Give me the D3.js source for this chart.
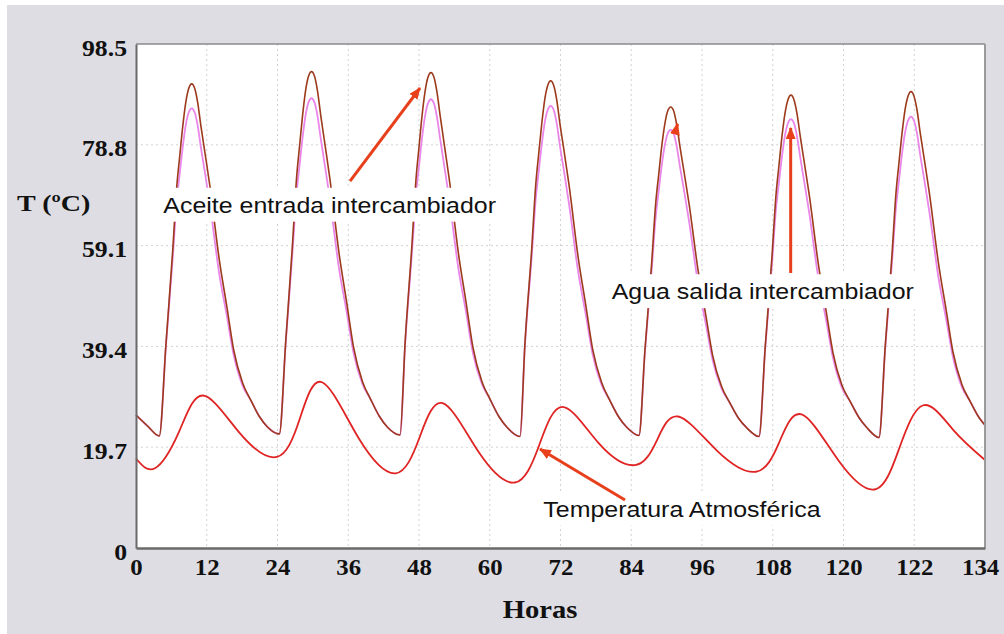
<!DOCTYPE html>
<html>
<head>
<meta charset="utf-8">
<script src="https://cdn.jsdelivr.net/npm/d3@7"></script>
<style>
  html, body { margin: 0; padding: 0; background: #ffffff; }
  svg { display: block; }
</style>
</head>
<body>
<svg id="chart" width="1004" height="634"></svg>
<script>
// ---- Axis ticks ----
const yTicks = [0, 19.7, 39.4, 59.1, 78.8, 98.5];
const xTickValues = [0, 12, 24, 36, 48, 60, 72, 84, 96, 108, 120, 132, 144];
const xTickLabels = ["0", "12", "24", "36", "48", "60", "72", "84", "96", "108", "120", "122", "134"];

// ---- Oil inlet / water outlet temperatures (shared time base, hours) ----
const horas = [
  0, 2, 3.95,
  5.09, 6.23, 6.91, 7.41, 7.92, 8.43, 8.94, 9.45, 9.96, 10.47, 11.03, 11.74, 12.55, 14.13, 15.39, 16.57, 18.10, 19.46, 20.98, 22.34,
  24.31,
  25.41, 26.55, 27.23, 27.73, 28.24, 28.75, 29.26, 29.77, 30.28, 30.79, 31.35, 32.06, 32.87, 34.45, 35.71, 36.89, 38.42, 39.78, 41.30, 42.66,
  44.78,
  45.67, 46.81, 47.49, 47.99, 48.50, 49.01, 49.52, 50.03, 50.54, 51.05, 51.61, 52.32, 53.13, 54.71, 55.97, 57.15, 58.68, 60.04, 61.56, 62.92,
  65.13,
  65.98, 67.12, 67.80, 68.30, 68.81, 69.32, 69.83, 70.34, 70.85, 71.36, 71.92, 72.63, 73.44, 75.02, 76.28, 77.46, 78.99, 80.35, 81.87, 83.23,
  85.31,
  86.33, 87.47, 88.15, 88.65, 89.16, 89.67, 90.18, 90.69, 91.20, 91.71, 92.27, 92.98, 93.79, 95.37, 96.63, 97.81, 99.34, 100.70, 102.22, 103.58,
  105.67,
  106.73, 107.87, 108.55, 109.05, 109.56, 110.07, 110.58, 111.09, 111.60, 112.11, 112.67, 113.38, 114.19, 115.77, 117.03, 118.21, 119.74, 121.10, 122.62, 123.98,
  126.02,
  127.09, 128.23, 128.91, 129.41, 129.92, 130.43, 130.94, 131.45, 131.96, 132.47, 133.03, 133.74, 134.55, 136.13, 137.39, 138.57, 140.10, 141.46, 142.98, 144
];

const aceiteEntrada = [
  26.0, 23.8, 21.9,
  40.0, 58.2, 70.6, 76.5, 82.3, 87.0, 89.8, 90.7, 89.8, 87.0, 82.3, 76.9, 70.6, 56.3, 47.3, 38.7, 32.2, 28.9, 25.6, 23.6,
  22.3,
  40.6, 59.5, 72.3, 78.4, 84.4, 89.3, 92.2, 93.1, 92.2, 89.3, 84.4, 78.8, 72.3, 57.5, 48.2, 39.3, 32.5, 29.1, 25.7, 23.6,
  22.1,
  40.6, 59.4, 72.1, 78.2, 84.3, 89.1, 92.0, 92.9, 92.0, 89.1, 84.3, 78.6, 72.1, 57.4, 48.1, 39.2, 32.5, 29.1, 25.7, 23.6,
  21.8,
  40.2, 58.5, 71.0, 77.0, 82.8, 87.6, 90.4, 91.3, 90.4, 87.6, 82.8, 77.4, 71.0, 56.6, 47.5, 38.8, 32.3, 28.9, 25.6, 23.6,
  22.0,
  38.8, 55.8, 67.4, 72.9, 78.4, 82.7, 85.4, 86.2, 85.4, 82.7, 78.4, 73.3, 67.4, 54.0, 45.6, 37.6, 31.5, 28.4, 25.3, 23.5,
  21.8,
  39.4, 57.0, 69.0, 74.7, 80.4, 84.9, 87.6, 88.5, 87.6, 84.9, 80.4, 75.1, 69.0, 55.2, 46.5, 38.2, 31.8, 28.7, 25.5, 23.5,
  21.6,
  39.6, 57.4, 69.5, 75.3, 81.0, 85.6, 88.3, 89.2, 88.3, 85.6, 81.0, 75.7, 69.5, 55.5, 46.7, 38.3, 31.9, 28.7, 25.5, 24.0
];

const aguaSalida = [
  26.0, 23.8, 21.9,
  39.7, 56.7, 67.8, 73.1, 78.3, 82.6, 85.1, 85.9, 85.1, 82.5, 78.1, 73.0, 67.0, 53.5, 45.5, 37.7, 31.7, 28.9, 25.6, 23.6,
  22.3,
  40.3, 57.9, 69.3, 74.7, 80.1, 84.5, 87.1, 87.9, 87.1, 84.4, 79.9, 74.6, 68.4, 54.5, 46.3, 38.2, 32.0, 29.1, 25.7, 23.6,
  22.1,
  40.3, 57.8, 69.1, 74.5, 80.0, 84.3, 86.9, 87.7, 86.9, 84.2, 79.8, 74.4, 68.2, 54.4, 46.2, 38.1, 32.0, 29.1, 25.7, 23.6,
  21.8,
  39.9, 57.0, 68.2, 73.5, 78.8, 83.1, 85.6, 86.4, 85.6, 83.0, 78.5, 73.4, 67.3, 53.8, 45.7, 37.8, 31.8, 28.9, 25.6, 23.6,
  22.0,
  38.5, 54.4, 64.8, 69.7, 74.7, 78.6, 81.0, 81.7, 81.0, 78.5, 74.5, 69.7, 64.0, 51.4, 43.9, 36.7, 31.1, 28.4, 25.3, 23.5,
  21.8,
  39.1, 55.5, 66.3, 71.4, 76.5, 80.6, 83.0, 83.8, 83.0, 80.5, 76.3, 71.3, 65.5, 52.5, 44.7, 37.2, 31.3, 28.7, 25.5, 23.5,
  21.6,
  39.3, 55.9, 66.7, 71.8, 77.0, 81.1, 83.5, 84.3, 83.5, 81.0, 76.7, 71.7, 65.8, 52.7, 44.9, 37.3, 31.4, 28.7, 25.5, 24.0
];

// ---- Ambient temperature ----
const horasAtm = [0, 3.22, 7.29, 11.36, 17.64, 23.92, 27.74, 31.55, 37.80, 44.05, 48.04, 52.02, 58.15, 64.28, 68.29,
  72.30, 78.47, 84.64, 88.31, 91.98, 98.57, 105.16, 109.04, 112.91, 119.21, 125.51, 129.52, 133.53, 138.6, 144];
const tempAtmosferica = [17.5, 15.6, 22.7, 29.8, 22.4, 17.8, 25.1, 32.4, 21.4, 14.6, 21.45, 28.3, 18.7, 12.8, 19.8,
  27.6, 20.5, 16.2, 20.95, 25.7, 19.0, 14.9, 20.5, 26.1, 17.0, 11.5, 19.7, 27.9, 23.1, 17.2];

// ---- Annotations (positions in hours / °C) ----
const etiquetas = [
  { texto: "Aceite entrada intercambiador", h: 4.63, v: 65.5 },
  { texto: "Agua salida intercambiador", h: 80.68, v: 48.6 },
  { texto: "Temperatura Atmosférica", h: 69.08, v: 6.12 }
];
const flechas = [
  { h0: 36.3, v0: 71.7, h1: 48.17, v1: 89.9 },
  { h0: 111.04, v0: 53.75, h1: 111.04, v1: 82.1 },
  { h0: 91.45, v0: 81.0, h1: 91.85, v1: 82.9 },
  { h0: 82.94, v0: 9.38, h1: 68.52, v1: 19.35 }
];

// ---- Layout ----
const W = 1004, H = 634;
const plot = { left: 136, right: 985, top: 44, bottom: 548 };

const svg = d3.select("#chart");

// page background
svg.append("rect").attr("x", 7).attr("y", 5).attr("width", W - 7).attr("height", H - 5).attr("fill", "#dddde3");
svg.append("rect")
  .attr("x", plot.left).attr("y", plot.top)
  .attr("width", plot.right - plot.left).attr("height", plot.bottom - plot.top)
  .attr("fill", "#ffffff");

const x = d3.scaleLinear().domain([0, 144]).range([plot.left, plot.right]);
const y = d3.scaleLinear().domain([0, 98.5]).range([plot.bottom, plot.top]);

// grid
const grid = svg.append("g").attr("stroke", "#d2d2d2").attr("stroke-width", 1).attr("stroke-dasharray", "2,3");
grid.selectAll("line.v").data(xTickValues.slice(1, -1)).join("line")
  .attr("x1", d => x(d)).attr("x2", d => x(d)).attr("y1", plot.top).attr("y2", plot.bottom);
grid.selectAll("line.h").data(yTicks.slice(1, -1)).join("line")
  .attr("x1", plot.left).attr("x2", plot.right).attr("y1", d => y(d)).attr("y2", d => y(d));

// series
const lineOf = (xs, ys, curve) => d3.line().x((d, i) => x(xs[i])).y(d => y(d)).curve(curve)(ys);

svg.append("path").attr("d", lineOf(horasAtm, tempAtmosferica, d3.curveNatural))
  .attr("fill", "none").attr("stroke", "#e02424").attr("stroke-width", 1.8);
svg.append("path").attr("d", lineOf(horas, aguaSalida, d3.curveMonotoneX))
  .attr("fill", "none").attr("stroke", "#ea86ea").attr("stroke-width", 1.8);
svg.append("path").attr("d", lineOf(horas, aceiteEntrada, d3.curveMonotoneX))
  .attr("fill", "none").attr("stroke", "#9c3a1c").attr("stroke-width", 1.6);

// frame
svg.append("line").attr("x1", plot.left).attr("x2", plot.right).attr("y1", plot.top).attr("y2", plot.top)
  .attr("stroke", "#8a8a8a").attr("stroke-width", 1.5);
svg.append("line").attr("x1", plot.right).attr("x2", plot.right).attr("y1", plot.top).attr("y2", plot.bottom)
  .attr("stroke", "#9a9a9a").attr("stroke-width", 2);

// axes
const serif = "'Liberation Serif', 'Times New Roman', serif";
const lastX = xTickValues.length - 1;
const xAxis = d3.axisBottom(x).tickValues(xTickValues)
  .tickFormat((d, i) => xTickLabels[i]).tickSize(0).tickPadding(11);
const gx = svg.append("g").attr("transform", `translate(0,${plot.bottom})`).call(xAxis);
gx.select(".domain").attr("stroke", "#6a6a6a").attr("stroke-width", 2.5);
gx.selectAll("text").attr("font-family", serif).attr("font-weight", "bold")
  .attr("font-size", 23).attr("fill", "#111").attr("transform", "scale(1.08,1)")
  .attr("dx", (d, i) => i === lastX ? -4.5 : 0);

const yAxis = d3.axisLeft(y).tickValues(yTicks)
  .tickFormat(d => d === 0 ? "0" : d3.format(".1f")(d)).tickSize(0).tickPadding(8);
const gy = svg.append("g").attr("transform", `translate(${plot.left},0)`).call(yAxis);
gy.select(".domain").attr("stroke", "#6a6a6a").attr("stroke-width", 2);
gy.selectAll("text").attr("font-family", serif).attr("font-weight", "bold")
  .attr("font-size", 23).attr("fill", "#111").attr("dy", "0.48em").attr("transform", "scale(1.12,1)");

// axis titles
svg.append("text").attr("x", 540).attr("y", 618).attr("text-anchor", "middle")
  .attr("font-family", serif).attr("font-weight", "bold").attr("font-size", 26).attr("fill", "#111")
  .attr("transform", "translate(540,0) scale(1.1,1) translate(-540,0)")
  .text("Horas");
svg.append("text").attr("x", 17).attr("y", 211)
  .attr("font-family", serif).attr("font-weight", "bold").attr("font-size", 23).attr("fill", "#111")
  .attr("transform", "translate(17,0) scale(1.22,1) translate(-17,0)")
  .text("T (ºC)");

// annotation labels on white boxes
etiquetas.forEach(e => {
  const g = svg.append("g").attr("transform", `translate(${x(e.h)},${y(e.v)}) scale(1.085,1)`);
  const t = g.append("text").attr("x", 0).attr("y", 0)
    .attr("font-family", "'Liberation Sans', Arial, sans-serif").attr("font-size", 23).attr("fill", "#111")
    .text(e.texto);
  const b = t.node().getBBox();
  g.insert("rect", "text").attr("x", b.x - 8).attr("y", b.y - 4)
    .attr("width", b.width + 16).attr("height", b.height + 8).attr("fill", "#ffffff");
});

// arrows
const defs = svg.append("defs");
defs.append("marker").attr("id", "punta").attr("viewBox", "0 0 12 10")
  .attr("refX", 11).attr("refY", 5).attr("markerWidth", 12).attr("markerHeight", 10)
  .attr("markerUnits", "userSpaceOnUse").attr("orient", "auto")
  .append("path").attr("d", "M0,0 L12,5 L0,10 Z").attr("fill", "#e8401c");

svg.selectAll("line.flecha").data(flechas).join("line").attr("class", "flecha")
  .attr("x1", d => x(d.h0)).attr("y1", d => y(d.v0))
  .attr("x2", d => x(d.h1)).attr("y2", d => y(d.v1))
  .attr("stroke", "#e8401c").attr("stroke-width", 3)
  .attr("marker-end", "url(#punta)");
</script>
</body>
</html>
